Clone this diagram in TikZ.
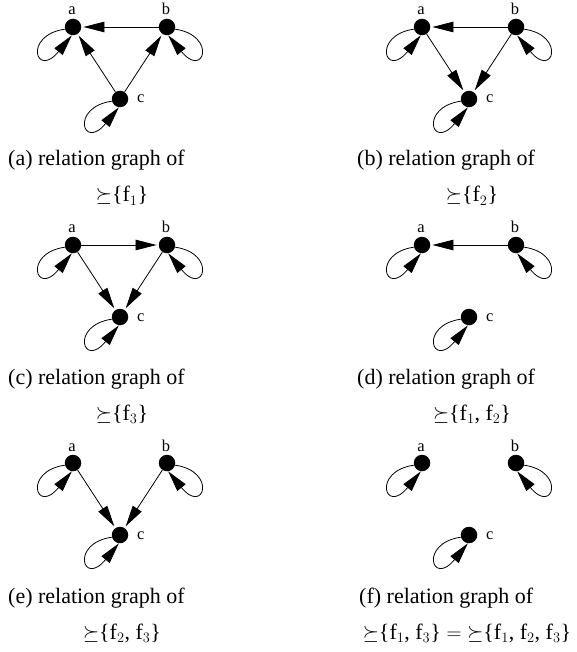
\documentclass[tikz,border=0pt]{standalone}
\usepackage{amsmath}
\usepackage{fontspec}
\setmainfont{Liberation Serif}
\usetikzlibrary{arrows.meta}
\newcommand\prefset[1]{\mathord{\succeq}\text{\{}#1\text{\}}}
\newcommand\drawgraph[3]{%
  \begin{scope}[shift={(#2,#3)}]
    \node[vtx] (#1a) at (-47,0) {};
    \node[vtx] (#1b) at (47,0) {};
    \node[vtx] (#1c) at (0,72) {};
    \node[vlabel,anchor=base] (#1la) at (-48,-12) {a};
    \node[vlabel,anchor=base] (#1lb) at (46,-12) {b};
    \node[vlabel,anchor=base west] (#1lc) at (17,76) {c};
    \draw[loopline] (#1a.195) .. controls +(-42,6) and +(-36,44) .. (#1a.262);
    \draw[loopline] (#1c.195) .. controls +(-42,6) and +(-36,44) .. (#1c.262);
    \draw[loopline] (#1b.-15) .. controls +(42,6) and +(36,44) .. (#1b.278);
  \end{scope}}
\begin{document}
\begin{tikzpicture}[x=1pt,y=-1pt,
  vtx/.style={circle,fill=black,draw=none,minimum size=16.5pt,inner sep=0pt},
  vlabel/.style={font=\fontsize{16.5}{18}\selectfont,inner sep=0pt},
  edge/.style={line width=0.8pt,-{Triangle[length=21pt,width=10.5pt]},shorten >=2pt},
  loopline/.style={line width=0.8pt,-{Triangle[length=21pt,width=10.5pt]}},
  captxt/.style={font=\fontsize{22}{26}\selectfont,inner sep=0pt}]
\useasboundingbox (0,0) rectangle (577,652);
% (a)
\drawgraph{A}{120}{27}
\draw[edge] (Ab) -- (Aa);
\draw[edge] (Ac) -- (Aa);
\draw[edge] (Ac) -- (Ab);
\node[captxt,anchor=base west] (capA1) at (8,166) {(a) relation graph of};
\node[captxt,anchor=base] (capA2) at (122,202) {$\prefset{\mathrm{f}_1}$};
% (b)
\drawgraph{B}{469}{27}
\draw[edge] (Bb) -- (Ba);
\draw[edge] (Ba) -- (Bc);
\draw[edge] (Bb) -- (Bc);
\node[captxt,anchor=base west] (capB1) at (357,166) {(b) relation graph of};
\node[captxt,anchor=base] (capB2) at (472,202) {$\prefset{\mathrm{f}_2}$};
% (c)
\drawgraph{C}{120}{245}
\draw[edge] (Ca) -- (Cb);
\draw[edge] (Ca) -- (Cc);
\draw[edge] (Cb) -- (Cc);
\node[captxt,anchor=base west] (capC1) at (8,384) {(c) relation graph of};
\node[captxt,anchor=base] (capC2) at (122,420) {$\prefset{\mathrm{f}_3}$};
% (d)
\drawgraph{D}{469}{245}
\draw[edge] (Db) -- (Da);
\node[captxt,anchor=base west] (capD1) at (357,384) {(d) relation graph of};
\node[captxt,anchor=base] (capD2) at (472,420) {$\prefset{\mathrm{f}_1\text{, }\mathrm{f}_2}$};
% (e)
\drawgraph{E}{120}{463}
\draw[edge] (Ea) -- (Ec);
\draw[edge] (Eb) -- (Ec);
\node[captxt,anchor=base west] (capE1) at (8,603) {(e) relation graph of};
\node[captxt,anchor=base] (capE2) at (122,639) {$\prefset{\mathrm{f}_2\text{, }\mathrm{f}_3}$};
% (f)
\drawgraph{F}{469}{463}
\node[captxt,anchor=base west] (capF1) at (359,603) {(f) relation graph of};
\node[captxt,anchor=base] (capF2) at (467,639) {$\prefset{\mathrm{f}_1\text{, }\mathrm{f}_3} = \prefset{\mathrm{f}_1\text{, }\mathrm{f}_2\text{, }\mathrm{f}_3}$};
\end{tikzpicture}
\end{document}
